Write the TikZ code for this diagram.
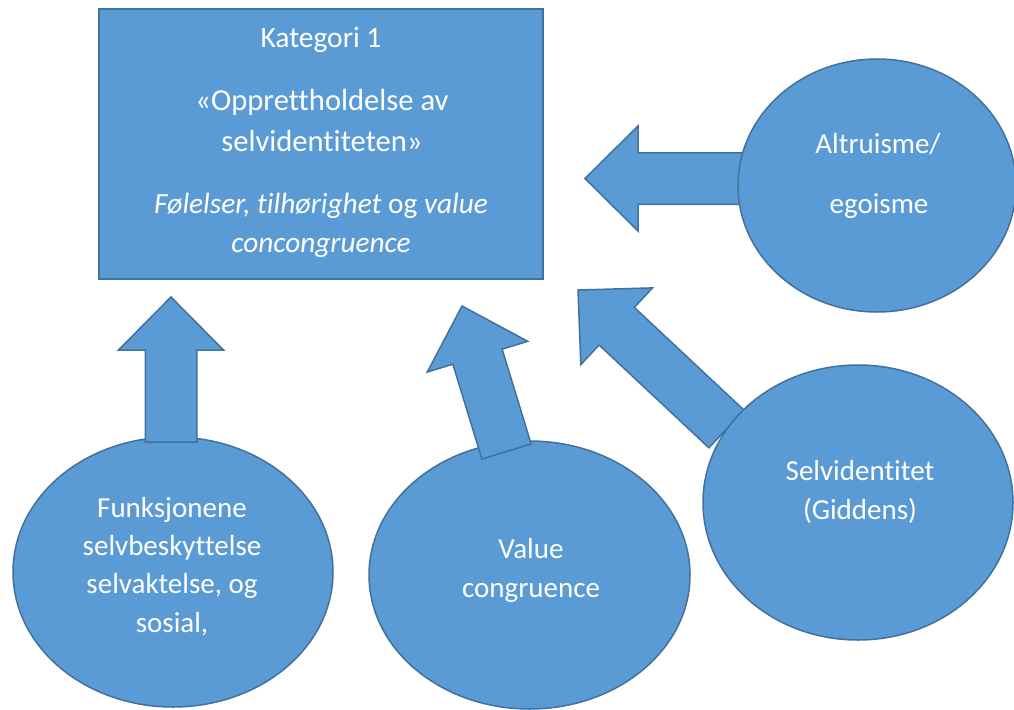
\documentclass[tikz,border=0pt]{standalone}
\usepackage{fontspec}
\setmainfont{Carlito}[Ligatures=NoCommon]
\usetikzlibrary{calc,shapes.geometric}
\definecolor{boxfill}{HTML}{5B9BD5}
\definecolor{boxline}{HTML}{41719C}
\newcommand\blockarrow[2]{%
  \coordinate (#1-h) at ($(#2)!53pt!(#1)$);
  \draw[blockarrowstyle] ($(#1)!25.75pt!90:(#2)$) -- ($(#1-h)!25.75pt!90:(#2)$) -- ($(#1-h)!52.5pt!90:(#2)$) -- (#2)
    -- ($(#1-h)!52.5pt!-90:(#2)$) -- ($(#1-h)!25.75pt!-90:(#2)$) -- ($(#1)!25.75pt!-90:(#2)$) -- cycle;}
\begin{document}
\begin{tikzpicture}[x=1pt,y=-1pt,
  blockarrowstyle/.style={fill=boxfill,draw=boxline,line width=1.5pt,line join=miter},
  bubble/.style={ellipse,fill=boxfill,draw=boxline,line width=1.5pt,inner sep=0pt},
  rectbox/.style={rectangle,fill=boxfill,draw=boxline,line width=2.2pt,inner sep=0pt},
  lbl/.style={text=white,inner sep=0pt,anchor=base,font=\fontsize{29pt}{35pt}\selectfont},
  titlelbl/.style={text=white,inner sep=0pt,anchor=base,font=\fontsize{29.5pt}{35pt}\selectfont},
  biglbl/.style={text=white,inner sep=0pt,anchor=base,font=\fontsize{30.6pt}{37pt}\selectfont},
  itlbl/.style={text=white,inner sep=0pt,anchor=base,font=\fontsize{29.3pt}{35pt}\selectfont}]
\useasboundingbox (0,0) rectangle (1014,709);
\fill[white] (0,0) rectangle (1014,709);

% arrows behind right ellipses
\coordinate (alt-tail) at (745,178.5);
\coordinate (alt-tip) at (585,178.5);
\coordinate (self-tail) at (726.5,429);
\coordinate (self-tip) at (578,290);
\blockarrow{alt-tail}{alt-tip}
\blockarrow{self-tail}{self-tip}

% ellipses
\node[bubble,minimum width=278pt,minimum height=253pt] (alt) at (877,185.5) {};
\node[bubble,minimum width=310pt,minimum height=275pt] (self) at (858,502.5) {};
\node[bubble,minimum width=320pt,minimum height=270pt] (funk) at (173,572) {};
\node[bubble,minimum width=321pt,minimum height=268pt] (val) at (529.5,575) {};

% arrows on top of bottom ellipses
\coordinate (funk-tail) at (171,442);
\coordinate (funk-tip) at (171,297);
\coordinate (val-tail) at (506.5,451.5);
\coordinate (val-tip) at (462,306);
\blockarrow{funk-tail}{funk-tip}
\blockarrow{val-tail}{val-tip}

% category box
\node[rectbox,minimum width=444pt,minimum height=270pt] (kat) at (321,144) {};
\node[titlelbl] (kat1) at (321,48) {Kategori 1};
\node[biglbl] (kat2) at (322,110) {«Opprettholdelse av};
\node[biglbl] (kat3) at (322,151) {selvidentiteten»};
\node[itlbl] (kat4) at (321,213) {\textit{Følelser, tilhørighet} og \textit{value}};
\node[itlbl] (kat5) at (321,252) {\textit{concongruence}};

% ellipse texts
\node[lbl] (alt1) at (878,153) {Altruisme/};
\node[lbl] (alt2) at (879,213) {egoisme};
\node[lbl] (self1) at (860,480) {Selvidentitet};
\node[lbl] (self2) at (860,519) {(Giddens)};
\node[lbl] (funk1) at (172,517) {Funksjonene};
\node[lbl] (funk2) at (172,555) {selvbeskyttelse};
\node[lbl] (funk3) at (172,593) {selvaktelse, og};
\node[lbl] (funk4) at (172,632) {sosial,};
\node[lbl] (val1) at (531,558) {Value};
\node[lbl] (val2) at (531,597) {congruence};
\end{tikzpicture}
\end{document}
